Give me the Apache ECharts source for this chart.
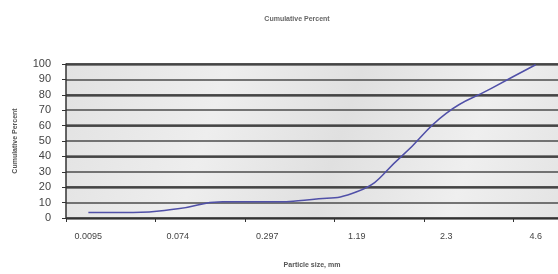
<!DOCTYPE html>
<html><head><meta charset="utf-8">
<script src="https://cdn.jsdelivr.net/npm/echarts@6/dist/echarts.min.js"></script>
<style>html,body{margin:0;padding:0;background:#fff}#c{width:558px;height:274px}</style>
</head><body><div id="c"></div>
<script>
var categories = ["0.0095","0.02","0.074","0.15","0.297","0.6","1.19","1.7","2.3","3.4","4.6"];
var cumulative = [3.6, 3.6, 6, 10.5, 10.5, 12, 17, 40, 68, 84, 99.5];
var yTicks = [0,10,20,30,40,50,60,70,80,90,100];

var chart = echarts.init(document.getElementById('c'));
chart.setOption({
  animation: false,
  backgroundColor: '#ffffff',
  title: {
    text: 'Cumulative Percent', left: 292, top: 11, textAlign: 'center',
    textStyle: { fontSize: 7, fontWeight: 'bold', color: '#666', fontFamily: 'Liberation Sans' }
  },
  grid: {
    left: 66, right: -3, top: 64, bottom: 51, show: true, borderWidth: 0,
    backgroundColor: {
      type: 'linear', x: 0, y: 0, x2: 1, y2: 1,
      colorStops: [
        { offset: 0, color: '#e2e2e2' }, { offset: 0.3, color: '#eeeeee' },
        { offset: 0.55, color: '#e0e0e0' }, { offset: 0.8, color: '#efefef' },
        { offset: 1, color: '#e4e4e4' }
      ]
    }
  },
  xAxis: {
    type: 'category', data: categories, boundaryGap: true,
    name: 'Particle size, mm', nameLocation: 'middle', nameGap: 44,
    nameTextStyle: { fontSize: 7, color: '#555', fontFamily: 'Liberation Sans', fontWeight: 'bold' },
    axisLine: { lineStyle: { color: '#333', width: 1 } },
    axisTick: { show: true, length: 4, lineStyle: { color: '#333' } },
    axisLabel: { interval: 1, fontSize: 9, color: '#444', margin: 14, fontFamily: 'Liberation Sans' },
    splitLine: { show: false }
  },
  yAxis: [{
    type: 'value', min: 0, max: 100, interval: 10,
    name: 'Cumulative Percent', nameLocation: 'middle', nameGap: 47, nameRotate: 90,
    nameTextStyle: { fontSize: 7, color: '#555', fontFamily: 'Liberation Sans', fontWeight: 'bold' },
    axisLine: { show: true, lineStyle: { color: '#333', width: 1.5 } },
    axisTick: { show: true, length: 4, lineStyle: { color: '#333' } },
    axisLabel: {
      fontSize: 11, color: '#444', margin: 15, fontFamily: 'Liberation Sans',
      formatter: function (v) { return yTicks.indexOf(v) >= 0 ? String(v) : ''; }
    },
    splitLine: { show: true, lineStyle: { color: '#555', width: 2, opacity: 0.8 } }
  }, {
    type: 'value', min: 0, max: 100, interval: 20, position: 'left',
    axisLine: { show: false }, axisTick: { show: false }, axisLabel: { show: false },
    splitLine: { show: true, lineStyle: { color: '#3a3a3a', width: 2.5, opacity: 0.8 } }
  }],
  series: [{
    type: 'line', data: cumulative, smooth: 0.5, showSymbol: false, yAxisIndex: 0,
    lineStyle: { color: '#5050a8', width: 1.5 }, z: 5
  }]
});
</script></body></html>
